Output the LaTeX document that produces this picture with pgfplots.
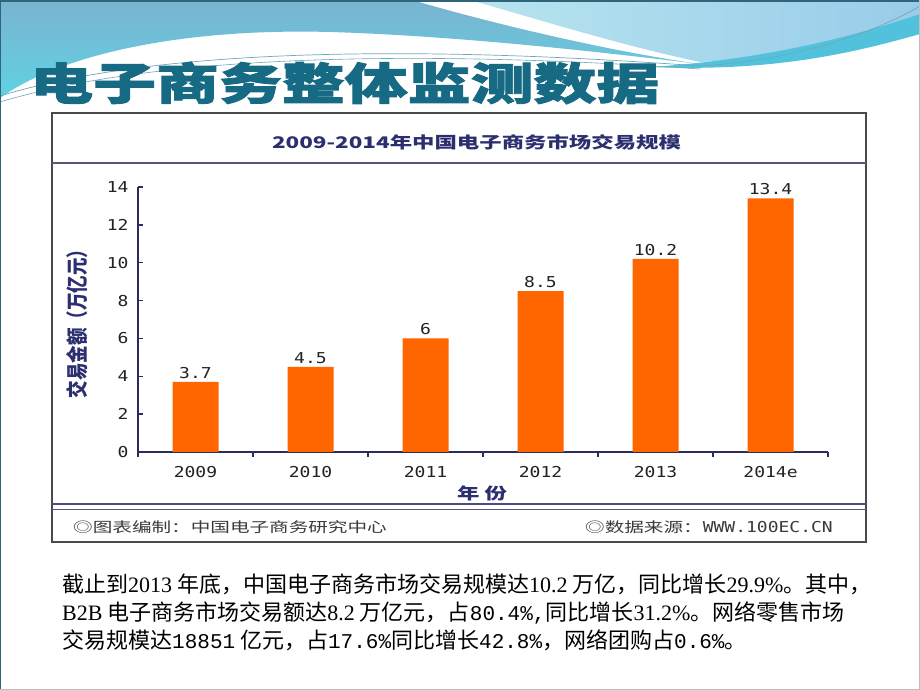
\documentclass[border=0pt]{standalone}
\usepackage{fontspec}
\usepackage{graphicx}
\usepackage{pgfplots}
\pgfplotsset{compat=1.18}
\setmainfont{Liberation Serif}
\newfontfamily\cjk{Noto Sans CJK SC}
\newfontfamily\cjkwide{Noto Sans CJK SC}[FakeStretch=1.4]
\newfontfamily\cjkheavy{Noto Sans CJK SC}[FakeStretch=1.43,BoldFeatures={FakeBold=2}]
\newfontfamily\monowide{DejaVu Sans Mono}[FakeStretch=1.2]
\newfontfamily\lmono{Liberation Mono}
\newcommand\la[1]{{\rmfamily #1}}
\newcommand\lm[1]{{\lmono\fontsize{21}{21}\selectfont #1}}
\definecolor{barorange}{HTML}{FF6600}
\definecolor{axisnavy}{HTML}{2A2C5E}
\definecolor{titlenavy}{HTML}{2B2F6F}
\definecolor{titleteal}{HTML}{176A84}
\definecolor{ticktext}{HTML}{222222}
\definecolor{foot}{HTML}{3A3A3A}
\definecolor{skyA}{HTML}{7AB3D0}
\definecolor{skyB}{HTML}{60D2E3}
\definecolor{skyC}{HTML}{B8E4EE}
\definecolor{skyD}{HTML}{98CCEA}
\definecolor{cyanband}{HTML}{52C2DC}
\definecolor{thinline}{HTML}{6FA8B8}
\definecolor{slideborder}{HTML}{2F6479}
\definecolor{framegray}{HTML}{4A4A4A}
\definecolor{sepnavy}{HTML}{55577A}
\pgfplotstableread{
x y lab
0 3.7 3.7
1 4.5 4.5
2 6 6
3 8.5 8.5
4 10.2 10.2
5 13.4 13.4
}\datatable
\begin{document}
\begin{tikzpicture}[x=1pt,y=1pt]
\useasboundingbox (0,0) rectangle (920,690);
\fill[white] (0,0) rectangle (920,690);
% top decoration
\shade[top color=skyA, bottom color=skyB] (0,690) -- (412,690) .. controls (480,670) and (600,640) .. (700,626) .. controls (600,638) and (460,654) .. (330,658) .. controls (180,662) and (60,635) .. (0,592) -- cycle;
\shade[left color=skyC, right color=skyD] (470,690) -- (920,690) -- (920,672) .. controls (850,650) and (780,632) .. (700,628) .. controls (620,645) and (540,670) .. (470,690) -- cycle;
\fill[cyanband] (650,623) .. controls (760,630) and (850,652) .. (920,676) -- (920,656) .. controls (850,636) and (770,618) .. (650,623) -- cycle;
\draw[thinline, line width=0.7] (0,594) .. controls (150,640) and (400,646) .. (700,624) .. controls (800,630) and (880,660) .. (920,684);
\draw[thinline, line width=0.6] (0,588) .. controls (160,636) and (420,640) .. (700,621);
\draw[slideborder, line width=2] (0,689) -- (920,689);
\draw[slideborder, line width=1.2] (0.6,0) -- (0.6,690);
\draw[black!25, line width=1] (919.5,0) -- (919.5,690);
\draw[black!25, line width=1] (0,0.5) -- (920,0.5);
% slide title
\node[anchor=west, inner sep=0, text=titleteal] at (30,607) {\fontsize{44}{44}\selectfont\cjkheavy\bfseries 电子商务整体监测数据};
% chart frame
\filldraw[fill=white, draw=framegray, line width=1.2] (52,577) rectangle (866,148);
\draw[sepnavy, line width=1.2] (52,527) -- (866,527);
\draw[black!45!blue!40!gray, line width=2] (52,186) -- (866,186);
\draw[sepnavy, line width=1] (52,180) -- (866,180);
\node[inner sep=0, text=titlenavy] at (476.5,548) {\fontsize{16}{16}\selectfont\cjkwide\bfseries 2009-2014年中国电子商务市场交易规模};
\node[anchor=west, inner sep=0, text=foot] at (73,163) {\fontsize{14}{14}\selectfont\cjkwide ◎图表编制：中国电子商务研究中心};
\node[anchor=east, inner sep=0, text=foot] at (833,163) {\fontsize{14}{14}\selectfont\cjkwide ◎数据来源：{\monowide\fontsize{15}{15}\selectfont WWW.100EC.CN}};
\begin{axis}[
  at={(138pt,238pt)}, anchor=south west,
  scale only axis, width=690pt, height=265pt,
  xmin=-0.5, xmax=5.5, ymin=0, ymax=14,
  axis x line*=bottom, axis y line*=left,
  axis line style={-, draw=axisnavy, line width=1.3pt},
  xtick={0,1,2,3,4,5}, xticklabels={2009,2010,2011,2012,2013,2014e},
  ytick={0,2,4,6,8,10,12,14}, yticklabels={0,2,4,6,8,10,12,14},
  minor xtick={-0.5,0.5,1.5,2.5,3.5,4.5,5.5},
  minor ytick={2,4,6,8,10,12,14},
  major tick length=0pt, minor tick length=5pt,
  tick style={draw=axisnavy, line width=1.3pt},
  tick label style={font=\fontsize{15}{15}\selectfont\monowide, text=ticktext},
  /pgf/number format/assume math mode=true,
  xticklabel style={yshift=-11pt},
  yticklabel style={xshift=-6pt},
  ybar, bar width=46pt,
  nodes near coords, point meta=explicit symbolic,
  every node near coord/.append style={font=\fontsize{15}{15}\selectfont\monowide, text=ticktext},
  xlabel={\fontsize{16}{16}\selectfont\cjkwide\bfseries 年 份},
  xlabel style={at={(axis description cs:0.4986,-0.158)}, anchor=center, text=titlenavy},
  ylabel={\scalebox{1}[1.25]{\fontsize{17.5}{17.5}\selectfont\cjk\bfseries 交易金额（万亿元）}},
  ylabel style={at={(axis description cs:-0.0884,0.5)}, anchor=center, rotate=0, text=titlenavy},
  clip=false,
]
\addplot[fill=barorange, draw=none] table[x=x, y=y, meta=lab] {\datatable};
\end{axis}
% bottom text
\begin{scope}[every node/.style={anchor=base west, inner sep=0, text=black}]
\node at (62,97) {\fontsize{22}{22}\selectfont\cjk 截止到\la{2013} 年底，中国电子商务市场交易规模达\la{10.2} 万亿，同比增长\la{29.9\%}。其中，};
\node at (62,69) {\fontsize{22}{22}\selectfont\cjk \la{B2B} 电子商务市场交易额达\la{8.2} 万亿元，占\lm{80.4\%,}同比增长\la{31.2\%}。网络零售市场};
\node at (62,41) {\fontsize{22}{22}\selectfont\cjk 交易规模达\lm{18851} 亿元，占\lm{17.6\%}同比增长\lm{42.8\%}，网络团购占\lm{0.6\%}。};
\end{scope}
\end{tikzpicture}
\end{document}
